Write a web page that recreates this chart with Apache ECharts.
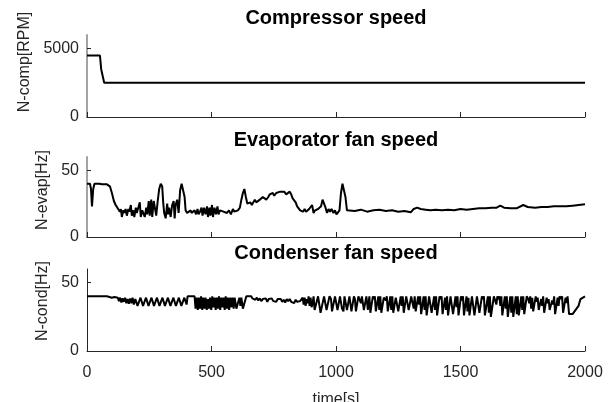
<!DOCTYPE html>
<html>
<head>
<meta charset="utf-8">
<script src="https://cdn.jsdelivr.net/npm/echarts@6.0.0/dist/echarts.min.js"></script>
<style>
  html, body { margin: 0; padding: 0; background: #fff; }
  #chart { width: 615px; height: 402px; }
</style>
</head>
<body>
<div id="chart"></div>
<script>
  var FONT = '"Liberation Sans", Arial, sans-serif';
  var INK = '#262626';

  var titles = ['Compressor speed', 'Evaporator fan speed', 'Condenser fan speed'];
  var yNames = ['N-comp[RPM]', 'N-evap[Hz]', 'N-cond[Hz]'];
  var xTicks = [0, 500, 1000, 1500, 2000];

  // compressor speed [RPM]
  var compTime = [0, 52, 57, 64, 69, 2000];
  var compSpeed = [4500, 4500, 3500, 3400, 2500, 2500];

  // evaporator fan speed [Hz]
  var evapTime = [0, 12, 16, 20, 25, 30, 50, 60, 80, 92, 100, 108, 115, 122, 128, 132, 136, 140, 146, 150,
    155, 160, 166, 170, 176, 180, 186, 190, 196, 200, 206, 212, 216, 222, 226, 232, 238, 242, 248, 252,
    258, 262, 268, 274, 278, 284, 290, 296, 302, 306, 310, 316, 322, 326, 330, 336, 342, 348, 352, 356,
    362, 368, 374, 380, 386, 392, 396, 402, 410, 416, 420, 426, 432, 438, 444, 448, 454, 460, 464, 470,
    476, 482, 486, 492, 496, 502, 506, 512, 518, 524, 528, 534, 540, 548, 556, 562, 570, 578, 586, 592,
    598, 606, 614, 620, 626, 632, 638, 644, 650, 656, 662, 668, 674, 680, 688, 694, 700, 706, 712, 720,
    728, 734, 740, 746, 752, 760, 768, 776, 784, 792, 800, 808, 814, 820, 826, 832, 838, 844, 850, 856,
    862, 868, 874, 880, 886, 892, 898, 904, 910, 916, 922, 928, 934, 940, 946, 952, 958, 964, 970, 976,
    982, 990, 996, 1002, 1008, 1014, 1020, 1026, 1032, 1038, 1044, 1050, 1075, 1100, 1125, 1150, 1175, 1200, 1225, 1250,
    1275, 1300, 1312, 1326, 1340, 1360, 1380, 1400, 1425, 1450, 1475, 1500, 1525, 1550, 1575, 1600, 1625, 1645, 1660, 1675,
    1700, 1725, 1752, 1770, 1800, 1825, 1850, 1875, 1900, 1925, 1950, 1975, 2000];
  var evapSpeed = [40, 40, 36, 23, 36, 40, 40, 39.5, 39.5, 38, 33, 27, 24, 22, 21, 19, 21, 15, 20, 18,
    21, 16, 21, 19, 24, 16, 20, 15, 22, 18, 17, 26, 15, 20, 19, 15, 22, 17, 27, 16,
    28, 15, 27, 28, 16, 27, 36, 40, 38, 26, 18, 14, 25, 17, 22, 15, 24, 27, 14, 24,
    28, 18, 35, 40, 39, 30, 20, 18, 17, 20, 18, 17, 20, 17, 21, 17, 19, 22, 16, 22,
    17, 23, 15, 22, 16, 24, 15, 22, 17, 23, 17, 20, 19, 19, 20, 18, 20, 17, 21, 19,
    19, 20, 22, 28, 33, 36, 30, 25, 24, 26, 24, 25, 28, 26, 27, 28, 27, 30, 29, 28,
    30, 32, 31, 33, 31, 33, 32, 34, 33, 34, 32, 33, 34, 32, 29, 28, 26, 23, 22, 20,
    21, 19, 21, 19, 18, 21, 20, 24, 18, 20, 19, 21, 20, 23, 28, 27, 22, 18, 21, 19,
    21, 18, 20, 17, 18, 20, 33, 40, 39, 30, 20, 19, 19.5, 20.5, 19, 20, 20.5, 19.5, 20, 19,
    19.5, 18.5, 21, 22, 21, 20.5, 20, 20.5, 20, 20.5, 20, 21, 20.5, 21, 21.5, 21.5, 22, 22, 23.5, 22,
    21.5, 21.5, 24, 22.5, 22, 22.5, 22.5, 23, 23, 23, 23.5, 24, 24.5];

  // condenser fan speed [Hz]
  var condTime = [0, 80, 90, 100, 110, 118, 124, 128, 133, 138, 143, 148, 153, 158, 163, 168, 173, 178, 183, 188, 194,
    198, 203, 210, 215, 220, 225, 232, 237, 242, 247, 254, 259, 264, 269, 276, 281, 286, 291, 298, 303,
    308, 313, 320, 325, 330, 335, 342, 347, 352, 357, 364, 369, 374, 379, 386, 391, 396, 400, 404, 432,
    436, 440, 445, 449, 454, 458, 463, 467, 472, 476, 481, 485, 490, 494, 499, 503, 508, 512, 517, 521,
    526, 530, 535, 539, 544, 548, 553, 557, 562, 566, 571, 575, 580, 584, 589, 593,
    600, 606, 612, 616, 620, 626, 634, 640, 660,
    664, 670, 676, 682, 688, 694, 700, 706, 712, 718, 724, 730, 736, 742, 748, 754, 760, 766, 772, 778,
    784, 790, 796, 802, 808, 814, 820, 826, 832, 838, 844, 850, 856, 862,
    866, 870, 874, 878, 882, 886, 890, 894, 898, 902, 906, 910,
    914, 922, 928, 934, 938, 946, 952, 958, 962, 968, 974, 980, 984, 990, 996,
    1002, 1006, 1012, 1016, 1020, 1024, 1030, 1034, 1040, 1044, 1050, 1054, 1058, 1062, 1068, 1072, 1076, 1080, 1086, 1090,
    1096, 1100, 1104, 1108, 1112, 1118, 1122, 1128, 1134, 1138, 1144, 1148, 1152, 1156, 1160, 1166, 1170, 1174, 1178, 1182,
    1188, 1192, 1196, 1200, 1204, 1208, 1214, 1218, 1222, 1226, 1230, 1236, 1240, 1246, 1250, 1256, 1260, 1264, 1268, 1272,
    1278, 1282, 1288, 1292, 1298, 1302, 1308, 1312, 1316, 1320, 1326, 1330, 1334, 1338, 1342, 1348, 1352, 1356, 1360, 1364,
    1370, 1374, 1380, 1384, 1390, 1394, 1398, 1402, 1406, 1412, 1416, 1420, 1424, 1428, 1434, 1438, 1442, 1446, 1450, 1456,
    1460, 1466, 1470, 1476, 1480, 1484, 1488, 1492, 1498, 1502, 1506, 1510, 1514, 1520, 1524, 1528, 1532, 1536, 1542, 1546,
    1552, 1556, 1562, 1566, 1572, 1576, 1582, 1586, 1590, 1594, 1598, 1606, 1610, 1614, 1618, 1622, 1630, 1634, 1640, 1644,
    1648, 1652, 1656, 1660, 1664, 1668, 1674, 1678, 1682, 1686, 1690, 1696, 1700, 1704, 1708, 1712, 1718, 1722, 1726, 1730,
    1734, 1740, 1744, 1748, 1752, 1756, 1762, 1766, 1772, 1776, 1780, 1784, 1788, 1792, 1798, 1802, 1806, 1810, 1814, 1820,
    1824, 1828, 1832, 1836, 1842, 1846, 1850, 1854, 1858, 1864, 1868, 1872, 1876, 1880, 1886, 1890, 1894, 1898, 1904, 1908,
    1912, 1918, 1922, 1926, 1930, 1936, 1944, 1950, 1958, 1966, 1974, 1982, 1990, 2000];
  var condSpeed = [40, 40, 39.5, 39, 39.5, 38.5, 39, 36.5, 39, 35.5, 38.5, 36, 39, 35, 38, 34.5, 38.5, 35, 39, 34, 38,
    39, 33, 33, 39, 39, 33, 33, 39, 38.5, 33, 33, 39, 39, 33, 33, 39, 39, 33, 34, 39,
    39, 33, 33, 39, 38, 33, 33, 39, 39, 33, 34, 39, 39, 33, 33, 39, 39, 34, 40, 40,
    31, 39, 30, 39, 31, 40, 30, 39, 31, 39, 30, 38, 31, 39, 30, 40, 32, 39, 30, 39,
    31, 40, 30, 39, 32, 39, 30, 40, 31, 39, 30, 39, 32, 39, 31, 39,
    31, 31, 39, 33, 39, 31, 31, 40, 40,
    38.5, 39.5, 37.5, 39, 37, 38.5, 36.5, 38, 37, 38.5, 36, 38, 37, 38.5, 36.5, 37.5, 36, 38, 37, 38,
    36, 37.5, 35.5, 38, 36.5, 38, 36, 37, 35, 37.5, 36, 37, 36.5, 35.5,
    39, 34, 39, 33, 38, 35, 40, 33, 39, 32, 35, 40,
    30, 29, 40, 40, 28, 29, 40, 39, 30, 29, 40, 38, 29, 29, 40,
    39, 30, 30, 40, 39, 31, 29, 40, 39, 30, 31, 40, 40, 29, 30, 40, 38, 29, 30, 40,
    39, 35, 40, 39, 30, 29, 40, 30, 40, 28, 29, 40, 38, 40, 29, 28, 40, 30, 40, 28,
    29, 39, 40, 37, 40, 29, 28, 40, 30, 40, 28, 29, 39, 40, 29, 29, 40, 33, 40, 28,
    29, 40, 39, 30, 29, 40, 40, 31, 40, 29, 28, 40, 34, 40, 27, 28, 40, 30, 40, 26,
    27, 40, 39, 28, 28, 40, 30, 40, 26, 27, 40, 38, 40, 27, 26, 39, 30, 40, 26, 27,
    40, 39, 27, 27, 40, 32, 40, 26, 26, 40, 37, 40, 26, 27, 40, 29, 39, 26, 27, 40,
    40, 26, 27, 40, 39, 28, 27, 40, 38, 40, 26, 25, 40, 28, 40, 25, 26, 40, 40, 34,
    40, 38, 40, 33, 40, 26, 25, 40, 31, 40, 25, 25, 40, 28, 40, 25, 26, 40, 27, 40,
    26, 25, 40, 30, 40, 27, 28, 40, 38, 35, 40, 31, 39, 29, 29, 40, 36, 39, 30, 30,
    38, 33, 40, 28, 28, 39, 35, 38, 30, 31, 37, 34, 40, 27, 28, 39, 33, 40, 38, 40,
    28, 27, 39, 35, 40, 27, 26, 27, 28, 31, 33, 38, 39, 40];

  function pairs(ts, vs) {
    return ts.map(function (t, i) { return [t, vs[i]]; });
  }

  var grids = [
    { left: 87, width: 498, top: 35, height: 82 },
    { left: 87, width: 498, top: 157, height: 80 },
    { left: 87, width: 498, top: 269, height: 82 }
  ];
  var yMax = [6000, 60, 60];
  var yTick = [5000, 50, 50];
  var yGap = [50, 33, 33];
  var yShift = [28, 14, 18]; // moves the rotated name up by half this amount
  var yLineColor = ['#a3a3a3', '#a3a3a3', INK];
  var yLineWidth = [2, 2, 1];
  var titleTop = [8, 130, 243];

  var plain = function (v) { return String(v); };

  function xAxis(i) {
    var last = i === 2;
    return {
      type: 'value', gridIndex: i, min: 0, max: 2000, interval: 500,
      axisLine: { show: true, onZero: false, lineStyle: { color: INK, width: 1 } },
      axisTick: { show: true, inside: true, length: 5, lineStyle: { color: INK } },
      axisLabel: { show: last, margin: 14, fontFamily: FONT, fontSize: 16, color: INK,
        customValues: xTicks, formatter: plain },
      splitLine: { show: false },
      name: last ? 'time[s]' : '',
      nameLocation: 'middle', nameGap: 41,
      nameTextStyle: { fontFamily: FONT, fontSize: 16, color: INK }
    };
  }

  function yAxis(i) {
    return {
      type: 'value', gridIndex: i, min: 0, max: yMax[i],
      axisLine: { show: true, lineStyle: { color: yLineColor[i], width: yLineWidth[i] } },
      axisTick: { show: true, inside: true, length: 4, lineStyle: { color: INK },
        customValues: [0, yTick[i]] },
      axisLabel: { margin: 8, fontFamily: FONT, fontSize: 16, color: INK,
        customValues: [0, yTick[i]], formatter: plain },
      splitLine: { show: false },
      name: yNames[i], nameLocation: 'middle', nameGap: yGap[i], nameRotate: 90,
      nameTextStyle: { fontFamily: FONT, fontSize: 16, color: INK, padding: [0, 0, 0, yShift[i]] }
    };
  }

  var seriesData = [pairs(compTime, compSpeed), pairs(evapTime, evapSpeed), pairs(condTime, condSpeed)];

  var chart = echarts.init(document.getElementById('chart'), null, { renderer: 'canvas' });
  chart.setOption({
    animation: false,
    backgroundColor: '#fff',
    title: titles.map(function (t, i) {
      return {
        text: t, left: 336, top: titleTop[i], textAlign: 'center', padding: 0,
        textStyle: { fontFamily: FONT, fontSize: 20, fontWeight: 'bold', color: '#000' }
      };
    }),
    grid: grids.map(function (g) {
      return Object.assign({ containLabel: false, outerBoundsMode: 'none' }, g);
    }),
    xAxis: [0, 1, 2].map(xAxis),
    yAxis: [0, 1, 2].map(yAxis),
    series: seriesData.map(function (d, i) {
      return {
        type: 'line', xAxisIndex: i, yAxisIndex: i, data: d,
        showSymbol: false, symbol: 'none',
        lineStyle: { color: '#000', width: 2 },
        silent: true
      };
    })
  });
</script>
</body>
</html>
